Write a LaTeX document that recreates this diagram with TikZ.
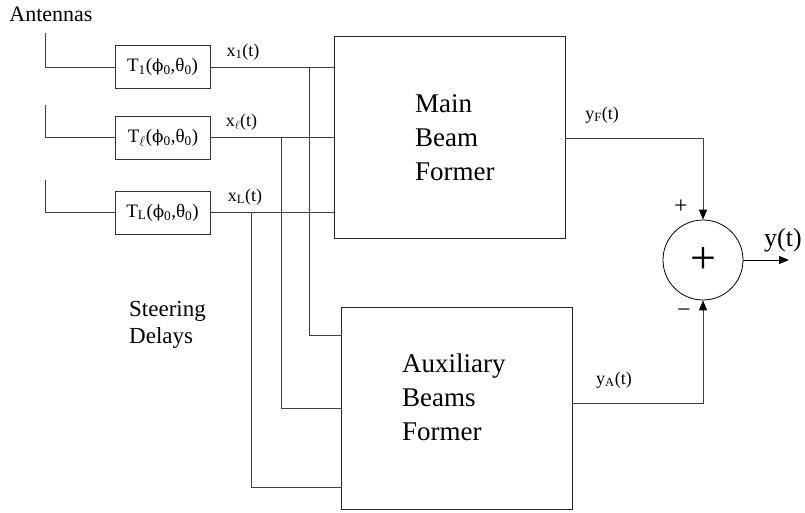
\documentclass[tikz,border=0pt]{standalone}
\usepackage{fontspec}
\setmainfont{Liberation Serif}
\newfontfamily\phifont[Scale=0.88]{DejaVu Serif}
\newcommand{\myphi}{{\phifont ϕ}}
\usetikzlibrary{arrows.meta}
\begin{document}
\begin{tikzpicture}[x=1pt,y=-1pt,
  wire/.style={draw=black!75,line width=1pt},
  arr/.style={-{Triangle[length=10pt,width=8pt,color=black]}},
  delaybox/.style={draw=black!80,line width=1pt,minimum width=95pt,minimum height=43pt,inner sep=0pt,font=\fontsize{19}{22}\selectfont},
  former/.style={draw=black!85,line width=1pt,minimum width=231pt,minimum height=202pt,inner sep=0pt},
  big/.style={anchor=base west,inner sep=0pt,font=\fontsize{27}{32}\selectfont},
  sig/.style={inner sep=0pt,font=\fontsize{18}{20}\selectfont},
  note/.style={anchor=base west,inner sep=0pt,font=\fontsize{23}{26}\selectfont}]
\useasboundingbox (0,0) rectangle (805,512);

% labels
\node[inner sep=0pt,font=\fontsize{22}{24}\selectfont] (ant) at (51,14.5) {Antennas};
\node[note] (st1) at (129,316) {Steering};
\node[note] (st2) at (129,343) {Delays};

% delay boxes
\node[delaybox] (T1) at (162.5,67) {T\textsubscript{1}(\myphi\textsubscript{0},θ\textsubscript{0})};
\node[delaybox] (Tl) at (163,137.5) {T\textsubscript{$\ell$}(\myphi\textsubscript{0},θ\textsubscript{0})};
\node[delaybox] (TL) at (162.5,212.5) {T\textsubscript{L}(\myphi\textsubscript{0},θ\textsubscript{0})};

% antennas
\coordinate (a1) at (45,33);
\coordinate (a2) at (45,105);
\coordinate (a3) at (45,180);
\draw[wire] (a1) |- (T1.west);
\draw[wire] (a2) |- (Tl.west);
\draw[wire] (a3) |- (TL.west);

% beam formers
\node[former] (main) at (449.5,137) {};
\node[former] (aux) at (457,408) {};
\node[big] (m1) at (415,112) {Main};
\node[big] (m2) at (415,146) {Beam};
\node[big] (m3) at (415,180) {Former};
\node[big] (x1) at (402,372) {Auxiliary};
\node[big] (x2) at (402,406) {Beams};
\node[big] (x3) at (402,440) {Former};

% signals into main former
\draw[wire] (T1.east) -- (T1.east -| main.west);
\draw[wire] (Tl.east) -- (Tl.east -| main.west);
\draw[wire] (TL.east) -- (TL.east -| main.west);
\node[sig] (lx1) at (243,52) {x\textsubscript{1}(t)};
\node[sig] (lxl) at (241.5,122.5) {x\textsubscript{$\ell$}(t)};
\node[sig] (lxL) at (245,197) {x\textsubscript{L}(t)};

% taps to auxiliary former
\coordinate (tap1) at (309,67);
\coordinate (tap2) at (281,137.5);
\coordinate (tap3) at (251,212.5);
\coordinate (in1) at (342,335);
\coordinate (in2) at (342,408);
\coordinate (in3) at (342,487);
\draw[wire] (tap1) |- (in1);
\draw[wire] (tap2) |- (in2);
\draw[wire] (tap3) |- (in3);

% summer
\node[draw=black,line width=0.8pt,circle,minimum size=80pt,inner sep=0pt,font=\fontsize{46}{46}\selectfont] (sum) at (703,260) {+};
\coordinate (outF) at (565,138);
\coordinate (outA) at (572,403);
\coordinate (yout) at (789,260);
\draw[wire,arr] (outF) -| (sum.north);
\draw[wire,arr] (outA) -| (sum.south);
\draw[line width=1pt,arr] (sum.east) -- (yout);
\node[sig] (lyF) at (602,115) {y\textsubscript{F}(t)};
\node[sig] (lyA) at (614,380) {y\textsubscript{A}(t)};
\node[inner sep=0pt,font=\fontsize{24}{26}\selectfont] (plus) at (681,207) {+};
\node[inner sep=0pt,font=\fontsize{24}{26}\selectfont] (minus) at (684,313) {−};
\node[inner sep=0pt,font=\fontsize{26}{28}\selectfont] (ly) at (783,240) {y(t)};
\end{tikzpicture}
\end{document}
